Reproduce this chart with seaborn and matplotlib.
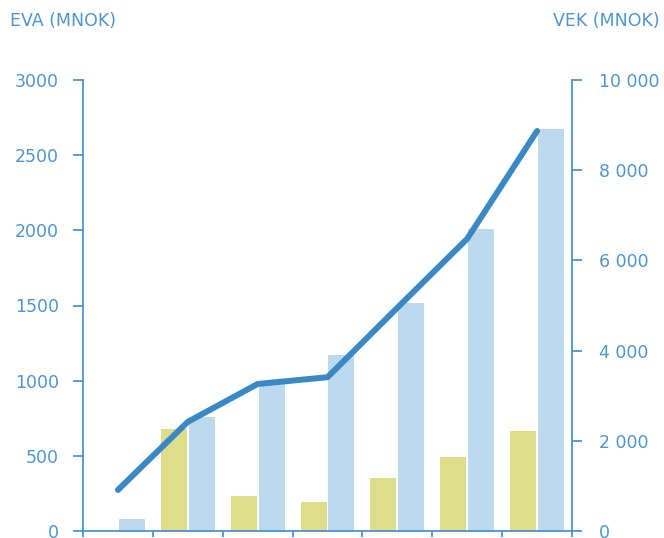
import matplotlib
matplotlib.use("Agg")
import matplotlib.pyplot as plt
import seaborn as sns
import pandas as pd
import numpy as np

# Data (MNOK)
periods = ["1", "2", "3", "4", "5", "6", "7"]
eva = [0, 680, 230, 190, 350, 490, 665]
eva_accumulated = [80, 760, 980, 1170, 1515, 2010, 2675]
vek = [910, 2420, 3260, 3410, 4950, 6480, 8870]

left_ticks = [0, 500, 1000, 1500, 2000, 2500, 3000]
right_ticks = [0, 2000, 4000, 6000, 8000, 10000]

AXIS_COLOR = "#3f8bc9"
TEXT_COLOR = "#4f96cf"
LINE_COLOR = "#3a89c6"
YELLOW = "#dddd8a"
LIGHT_BLUE = "#bdd9ee"

sns.set_style("ticks")
plt.rcParams["font.family"] = ["DejaVu Sans"]

fig = plt.figure(figsize=(6.64, 5.38), dpi=100)
ax = fig.add_axes([83 / 664, 7 / 538, (572 - 83) / 664, (531 - 80) / 538])

df = pd.DataFrame({
    "periode": periods * 2,
    "serie": ["EVA"] * len(periods) + ["Akkumulert EVA"] * len(periods),
    "verdi": eva + eva_accumulated,
})

sns.barplot(data=df, x="periode", y="verdi", hue="serie",
            hue_order=["EVA", "Akkumulert EVA"],
            palette={"EVA": YELLOW, "Akkumulert EVA": LIGHT_BLUE},
            order=periods, width=0.8, gap=0.07, saturation=1,
            linewidth=0, edgecolor="none",
            legend=False, ax=ax, zorder=2)

ax2 = ax.twinx()
sns.lineplot(x=np.arange(len(periods)), y=vek, ax=ax2, color=LINE_COLOR,
             linewidth=4.3, solid_capstyle="round", solid_joinstyle="round")

ax.set_xlim(-0.5, len(periods) - 0.5)
ax.set_ylim(0, 3000)
ax2.set_ylim(0, 10000)

ax.set_xticks(np.arange(-0.5, len(periods), 1.0))
ax.set_xticklabels([])
ax.set_xlabel("")
ax.set_ylabel("")
ax2.set_ylabel("")

ax.set_yticks(left_ticks)
ax.set_yticklabels([str(v) for v in left_ticks])
ax2.set_yticks(right_ticks)
ax2.set_yticklabels([f"{v:,}".replace(",", " ") for v in right_ticks])

for a in (ax, ax2):
    for s in a.spines.values():
        s.set_color(AXIS_COLOR)
        s.set_linewidth(1.2)
ax.spines["top"].set_visible(False)
ax.spines["right"].set_visible(False)
ax2.spines["top"].set_visible(False)
ax2.spines["left"].set_visible(False)
ax2.spines["bottom"].set_visible(False)

ax.tick_params(axis="y", direction="out", length=7.5, width=1.2,
               color=AXIS_COLOR, labelcolor=TEXT_COLOR, labelsize=12.5, pad=10)
ax.tick_params(axis="x", direction="out", length=4, width=1.2,
               color=AXIS_COLOR)
ax2.tick_params(axis="y", direction="out", length=7.5, width=1.2,
                color=AXIS_COLOR, labelcolor=TEXT_COLOR, labelsize=12.5, pad=12)

fig.text(10 / 664, 1 - 21 / 538, "EVA (MNOK)", color=TEXT_COLOR,
         fontsize=12.5, ha="left", va="center")
fig.text(660 / 664, 1 - 21 / 538, "VEK (MNOK)", color=TEXT_COLOR,
         fontsize=12.5, ha="right", va="center")

fig.savefig("out.png", dpi=100)
